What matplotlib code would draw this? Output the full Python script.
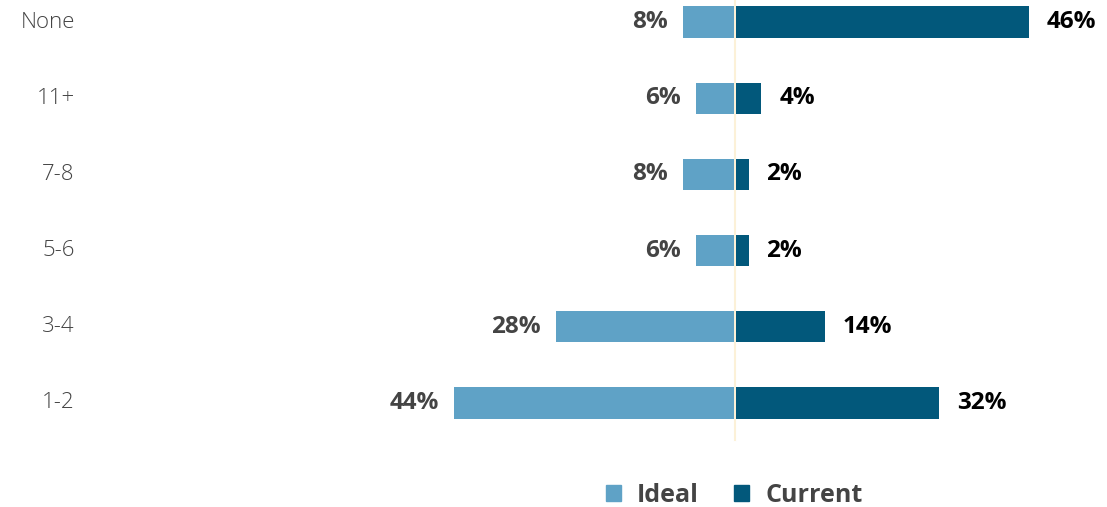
import matplotlib.pyplot as plt
from matplotlib.patches import Patch

# Number of sessions: ideal vs current share of respondents
categories = ['1-2', '3-4', '5-6', '7-8', '11+', 'None']
ideal = [44, 28, 6, 8, 6, 8]
current = [32, 14, 2, 2, 4, 46]

colors = {'ideal': '#5fa2c6', 'current': '#02587b'}
plt.rcParams['font.family'] = ['Open Sans', 'DejaVu Sans']

fig = plt.figure(figsize=(11.07, 5.07), dpi=100)
ax = fig.add_axes([0, 0, 1, 1])
px = 6.36  # pixels per percent
ax.set_xlim(-735 / px, (1107 - 735) / px)
ax.set_ylim(-1.365, 5.289)
ax.axis('off')

ys = list(range(len(categories)))
gap = 0.15
ax.barh(ys, [-v for v in ideal], left=-gap, height=0.41, color=colors['ideal'], zorder=2)
ax.barh(ys, current, left=gap, height=0.41, color=colors['current'], zorder=2)
ax.plot([0, 0], [-0.486, 5.289], color='#fcf1d8', lw=1.5, zorder=1)

for y, cat, i_val, c_val in zip(ys, categories, ideal, current):
    ax.text(-103.8, y, cat, ha='right', va='center', fontsize=16,
            fontweight='light', color='#444444')
    ax.text(-i_val - gap - 2.4, y, f'{i_val}%', ha='right', va='center',
            fontsize=17.5, fontweight='bold', color='#444444')
    ax.text(c_val + gap + 2.8, y, f'{c_val}%', ha='left', va='center',
            fontsize=17.5, fontweight='bold', color='#000000')

legend_items = [Patch(color=colors['ideal'], label='Ideal'),
                Patch(color=colors['current'], label='Current')]
leg = fig.legend(handles=legend_items, loc='center', bbox_to_anchor=(734 / 1107, 1 - 495 / 507),
                 ncol=2, frameon=False, handlelength=0.6, handleheight=0.6,
                 columnspacing=1.4, handletextpad=0.65,
                 prop={'size': 18, 'weight': 'bold'})
for t in leg.get_texts():
    t.set_color('#444444')

fig.savefig('out.png', dpi=100)
